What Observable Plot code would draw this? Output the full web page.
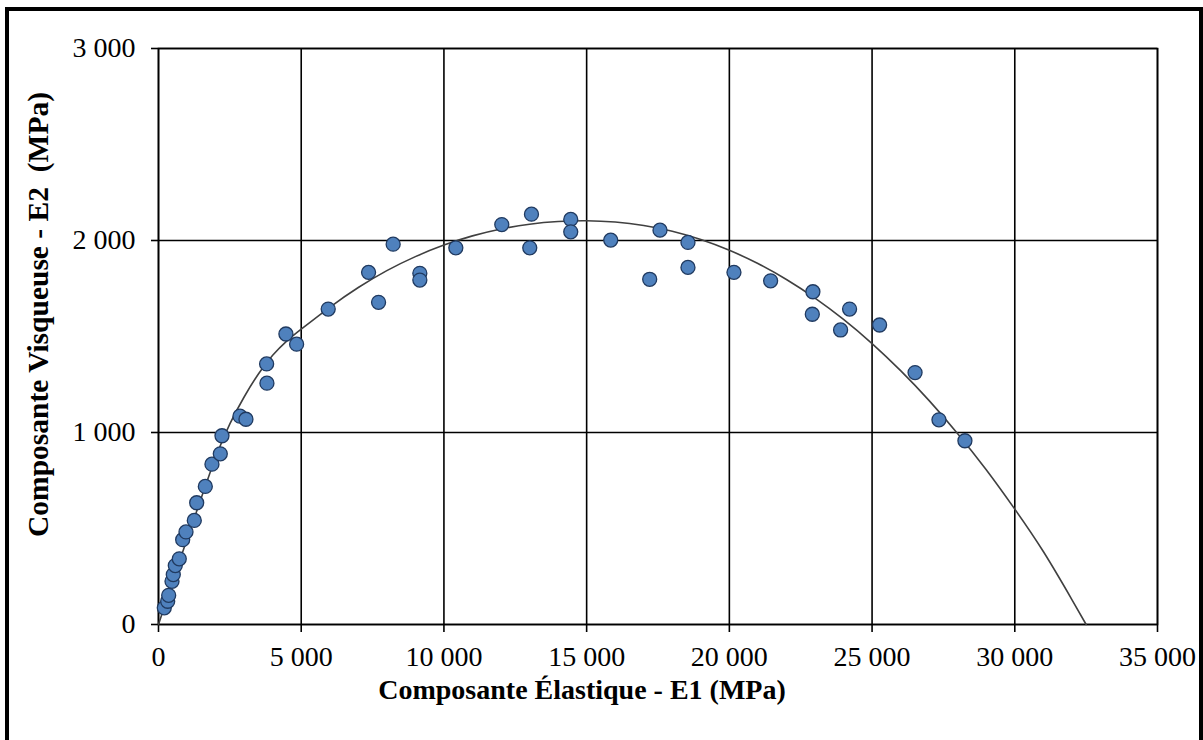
<!DOCTYPE html>
<html>
<head>
<meta charset="utf-8">
<script src="https://cdn.jsdelivr.net/npm/d3@7"></script>
<script src="https://cdn.jsdelivr.net/npm/@observablehq/plot@0.6"></script>
<style>
  html, body { margin: 0; padding: 0; background: #fff; }
  #wrap { position: relative; width: 1203px; height: 740px; overflow: hidden; }
  #border { position: absolute; left: 5px; top: 7px; width: 1198px; height: 740px; border: 4px solid #000; box-sizing: border-box; }
  #chart { position: absolute; left: 0; top: 0; }
</style>
</head>
<body>
<div id="wrap"><div id="border"></div><div id="chart"></div></div>
<script>
// Measured points: elastic component E1 (MPa) and viscous component E2 (MPa)
const E1 = [203, 322, 357, 473, 518, 588, 728, 847, 963, 1254, 1338, 1640, 1873, 2165, 2224, 2854, 3064, 3799, 3788, 4464, 4839,
  5946, 7360, 7710, 8221, 9156, 9156, 10417, 12027, 13067, 13007, 14443, 14443, 15844,
  17570, 17209, 18550, 18550, 20161, 21446, 22927, 22906, 24212, 23897, 25263, 26506, 27343, 28253];
const E2 = [87, 121, 152, 225, 260, 307, 342, 442, 482, 542, 634, 719, 835, 889, 983, 1085, 1069, 1257, 1357, 1513, 1460,
  1643, 1834, 1678, 1981, 1829, 1794, 1962, 2083, 2137, 1962, 2110, 2045, 2002,
  2054, 1798, 1990, 1860, 1834, 1790, 1733, 1616, 1643, 1534, 1560, 1312, 1066, 957];

// Trend curve
const fitE1 = [0, 500, 1000, 1500, 2000, 2500, 3000, 3500, 4000, 4500, 5000, 6000, 7000, 8000, 9000, 10000, 11000, 12000, 13000, 14000, 15000,
  16000, 17000, 18000, 19000, 20000, 21000, 22000, 23000, 24000, 25000, 26000, 27000, 28000, 29000, 30000, 31000, 32000, 32500];
const fitE2 = [0, 225, 445, 660, 870, 1045, 1185, 1305, 1402, 1477, 1538, 1652, 1755, 1843, 1916, 1976, 2024, 2060, 2085, 2099, 2103,
  2096, 2078, 2048, 2005, 1949, 1880, 1797, 1700, 1589, 1463, 1322, 1166, 994, 806, 601, 380, 130, 0];

const xTicks = [0, 5000, 10000, 15000, 20000, 25000, 30000, 35000];
const yTicks = [0, 1000, 2000, 3000];

const xTitle = "Composante Élastique - E1 (MPa)";
const yTitle = "Composante Visqueuse - E2 \u00A0(MPa)";

const fmt = d => d3.format(",")(d).replace(/,/g, " ");
const pts = E1.map((x, i) => ({x, y: E2[i]}));
const fit = fitE1.map((x, i) => ({x, y: fitE2[i]}));

const chart = Plot.plot({
  width: 1203,
  height: 740,
  marginLeft: 158,
  marginRight: 46,
  marginTop: 48,
  marginBottom: 116,
  style: { fontFamily: "'Liberation Serif', 'Times New Roman', serif", fontSize: "28px", color: "#000", background: "transparent" },
  x: { domain: [0, 35000] },
  y: { domain: [0, 3000] },
  marks: [
    Plot.gridX(xTicks, { stroke: "#000", strokeOpacity: 1, strokeWidth: 1.6 }),
    Plot.gridY(yTicks, { stroke: "#000", strokeOpacity: 1, strokeWidth: 1.6 }),
    Plot.frame({ stroke: "#000", strokeWidth: 1.6 }),
    Plot.axisX({ ticks: xTicks, tickFormat: fmt, tickSize: 8, tickPadding: 14, stroke: "#000", strokeWidth: 1.6, label: null, fontSize: 28 }),
    Plot.axisY({ ticks: yTicks, tickFormat: fmt, tickSize: 7, tickPadding: 16, stroke: "#000", strokeWidth: 1.6, label: null, fontSize: 28 }),
    Plot.line(fit, { x: "x", y: "y", stroke: "#404040", strokeWidth: 1.6, curve: "natural" }),
    Plot.dot(pts, { x: "x", y: "y", r: 7, fill: "#4F81BD", stroke: "#203a60", strokeWidth: 1.3 }),
    Plot.text([xTitle], { frameAnchor: "bottom", dx: -76, dy: 74, fontWeight: "bold", fontSize: 28, fill: "#000" }),
    Plot.text([yTitle], { frameAnchor: "left", textAnchor: "middle", rotate: -90, dx: -120, dy: -22, fontWeight: "bold", fontSize: 29.5, fill: "#000" })
  ]
});
document.getElementById("chart").appendChild(chart);
</script>
</body>
</html>
